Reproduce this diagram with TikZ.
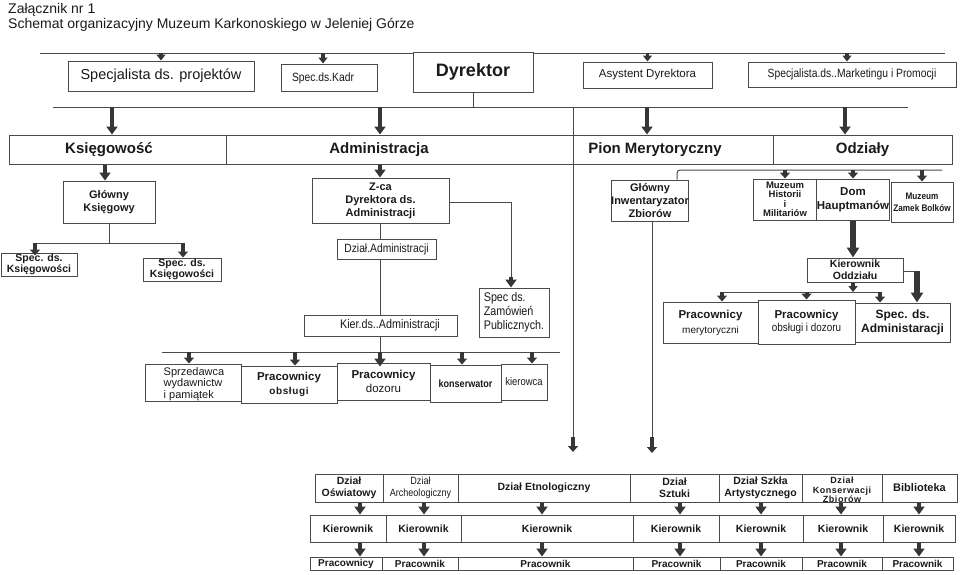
\documentclass[tikz,border=0pt]{standalone}
\usepackage{fontspec}
\setmainfont{Liberation Sans}
\newfontfamily\narrowfont[FakeStretch=0.86]{Liberation Sans}
\newfontfamily\widefont[LetterSpace=6]{Liberation Sans}
\usetikzlibrary{arrows.meta}
\definecolor{lc}{HTML}{4A4A4A}
\definecolor{ac}{HTML}{363636}
\definecolor{tc}{HTML}{1A1A1A}
\newcommand\fs[2]{\fontsize{#1}{#2}\selectfont}
\newcommand\bx[7]{\node[box,#6,minimum width={#4-#2},minimum height={#5-#3}] (#1) at ({(#2+#4)/2},{(#3+#5)/2}) {#7};}
\begin{document}
\begin{tikzpicture}[x=1pt,y=-1pt,
 box/.style={draw=lc,line width=1pt,inner sep=0pt,align=center,text=tc,fill=white},
 ln/.style={draw=lc,line width=1pt},
 big/.style={draw=ac,line width=4.5pt,-{Triangle[width=11pt,length=8pt]}},
 med/.style={draw=ac,line width=4pt,-{Triangle[width=10pt,length=6pt]}},
 sm/.style={draw=ac,line width=3.5pt,-{Triangle[width=9pt,length=6pt]}},
 lab/.style={text=tc,inner sep=0pt}]
\useasboundingbox (0,0) rectangle (960,574);

% title
\node[lab,anchor=base west,font=\fs{14}{16}] (t1) at (8,13) {Załącznik nr 1};
\node[lab,anchor=base west,font=\fs{14}{16}] (t2) at (8,28) {Schemat organizacyjny Muzeum Karkonoskiego w Jeleniej Górze};

% ---------- top row
\coordinate (tb1) at (40,53); \coordinate (tb2) at (945,53);
\bx{dyr}{413}{52}{533}{92}{font=\bfseries\fs{18}{20}}{Dyrektor}
\bx{proj}{68}{61}{254}{91}{font=\fs{14.5}{16}}{Specjalista ds. projektów}
\bx{kadr}{281}{64}{377}{91}{}{}
\node[lab,font=\narrowfont\fs{12}{13}] (kadrT) at (323,78) {Spec.ds.Kadr};
\bx{asys}{583}{62}{712}{88}{font=\fs{11.5}{13}}{Asystent Dyrektora}
\bx{mark}{748}{62}{956}{87}{font=\narrowfont\fs{12}{13}}{Specjalista.ds..Marketingu i Promocji}
\draw[ln] (tb1) -- (tb1 -| dyr.west);
\draw[ln] (tb2 -| dyr.east) -- (tb2);
\coordinate (cKd) at (323,0); \coordinate (cMk) at (847,0);
\draw[sm] (tb1 -| proj.north) -- (proj.north);
\draw[sm] (tb1 -| cKd) -- (kadr.north -| cKd);
\draw[sm] (tb1 -| asys.north) -- (asys.north);
\draw[sm] (tb1 -| cMk) -- (mark.north -| cMk);

% ---------- second bus and row
\coordinate (sb1) at (53,107); \coordinate (sb2) at (908,107);
\draw[ln] (sb1) -- (sb2);
\draw[ln] (dyr.south) -- (dyr.south |- sb1);
\bx{ksieg}{9}{135}{226}{164}{}{}
\bx{adm}{226}{135}{573}{164}{}{}
\bx{pion}{573}{135}{773}{164}{}{}
\bx{odz}{773}{135}{952}{164}{font=\bfseries\fs{15}{17}}{Odziały}
\node[lab,font=\bfseries\fs{15}{17}] (ksiegT) at (109,150) {Księgowość};
\node[lab,font=\bfseries\fs{15}{17}] (admT) at (379,150) {Administracja};
\node[lab,font=\bfseries\fs{15}{17}] (pionT) at (655,150) {Pion Merytoryczny};
\coordinate (cK) at (112,0); \coordinate (cA) at (380,0);
\coordinate (cP) at (647,0); \coordinate (cO) at (845,0);
\draw[big] (sb1 -| cK) -- (ksieg.north -| cK);
\draw[big] (sb1 -| cA) -- (adm.north -| cA);
\draw[big] (sb1 -| cP) -- (pion.north -| cP);
\draw[big] (sb1 -| cO) -- (odz.north -| cO);
% long vertical line to the departments
\coordinate (vM) at (573,437); \coordinate (vE) at (573,452);
\draw[ln] (sb1 -| vM) -- (vM);
\draw[med] (vM) -- (vE);

% ---------- Ksiegowosc
\coordinate (cG) at (105,0);
\bx{gk}{63}{181}{155}{223}{font=\bfseries\fs{11}{13}}{Główny\\Księgowy}
\draw[big] (ksieg.south -| cG) -- (gk.north -| cG);
\bx{sk1}{1}{253}{77}{276}{font=\bfseries\fs{10.5}{11}}{Spec. ds.\\Księgowości}
\bx{sk2}{143}{258}{221}{281}{font=\bfseries\fs{10.5}{11}}{Spec. ds.\\Księgowości}
\coordinate (kb1) at (33,243); \coordinate (kb2) at (183,243);
\draw[ln] (gk.south) -- (gk.south |- kb1);
\draw[ln] (kb1) -- (kb2);
\coordinate (cS1) at (35,0);
\draw[med] (kb1 -| cS1) -- ([yshift=-3pt]sk1.north -| cS1);
\draw[med] (kb2) -- (sk2.north -| kb2);

% ---------- Administracja
\bx{zca}{312}{178}{449}{223}{font=\bfseries\fs{11}{13}}{Z-ca\\Dyrektora ds.\\Administracji}
\draw[big] (adm.south -| cA) -- (zca.north -| cA);
\bx{dzial}{337}{239}{436}{259}{font=\narrowfont\fs{12}{12}}{Dział.Administracji}
\bx{kier}{304}{315}{457}{336}{}{}
\node[lab,font=\narrowfont\fs{12.5}{13}] (kierT) at (390,325.5) {Kier.ds..Administracji};
\bx{zam}{479}{288}{549}{337}{font=\narrowfont\fs{12.5}{14},align=left}{Spec ds.\\Zamówień\\Publicznych.}
\draw[ln] (zca.south -| cA) -- (dzial.north -| cA);
\draw[ln] (dzial.south -| cA) -- (kier.north -| cA);
\coordinate (zr) at (511,202); \coordinate (zr2) at (511,277);
\draw[ln] (zca.east |- zr) -- (zr) -- (zr2);
\draw[big] (zr2) -- (zam.north -| zr2);
\coordinate (ab1) at (162,352); \coordinate (ab2) at (560,352);
\draw[ln] (ab1) -- (ab2);
\draw[ln] (kier.south -| cA) -- (ab1 -| cA);
\bx{b1}{145}{364}{241}{401}{}{}
\node[lab,align=left,font=\fs{11}{11.5}] (b1T) at (194,384) {Sprzedawca\\wydawnictw\\i pamiątek};
\bx{b2}{241}{366}{337}{403}{font=\bfseries\fs{11.5}{14}}{Pracownicy\\{\widefont\bfseries\fs{10}{14}obsługi}}
\bx{b3}{337}{363}{430}{400}{font=\fs{11.5}{14}}{\textbf{Pracownicy}\\dozoru}
\bx{b4}{430}{365}{501}{402}{font=\narrowfont\bfseries\fs{10.5}{12}}{konserwator}
\bx{b5}{501}{364}{547}{400}{font=\narrowfont\fs{11}{12}}{kierowca}
\coordinate (cB1) at (189,0); \coordinate (cB2) at (295,0);
\coordinate (cB4) at (462,0); \coordinate (cB5) at (532,0);
\draw[med] (ab1 -| cB1) -- (b1.north -| cB1);
\draw[med] (ab1 -| cB2) -- (b2.north -| cB2);
\draw[big] (ab1 -| cA) -- ([yshift=-4pt]b3.north -| cA);
\draw[med] (ab1 -| cB4) -- (b4.north -| cB4);
\draw[med] (ab1 -| cB5) -- (b5.north -| cB5);

% ---------- Pion Merytoryczny / Odzialy
\bx{gi}{612}{180}{688}{221}{font=\bfseries\fs{11}{13}}{Główny\\Inwentaryzator\\Zbiorów}
\coordinate (pb1) at (677,170); \coordinate (pb2) at (942,170);
\draw[ln,rounded corners=3pt] (gi.north -| pb1) -- (pb1) -- (pb2);
\coordinate (gM) at (652,437); \coordinate (gE) at (652,453);
\draw[ln] (gi.south -| gM) -- (gM);
\draw[med] (gM) -- (gE);
\bx{mh}{753}{179}{817}{220}{font=\bfseries\fs{9.5}{9.5}}{Muzeum\\Historii\\i\\Militariów}
\bx{dh}{817}{179}{889}{220}{font=\bfseries\fs{11.5}{14}}{Dom\\Hauptmanów}
\bx{zb}{891}{182}{953}{222}{font=\narrowfont\bfseries\fs{9.5}{12}}{Muzeum\\Zamek Bolków}
\draw[med] (pb1 -| mh.north) -- (mh.north);
\draw[med] (pb1 -| dh.north) -- (dh.north);
\draw[med] (pb1 -| zb.north) -- (zb.north);
\bx{ko}{807}{258}{903}{282}{font=\bfseries\fs{10.5}{12}}{Kierownik\\Oddziału}
\coordinate (cD) at (853,0);
\draw[draw=ac,line width=6pt,-{Triangle[width=12pt,length=10pt]}] (dh.south -| cD) -- (ko.north -| cD);
\bx{pm}{663}{302}{758}{343}{font=\fs{11.5}{15}}{\textbf{Pracownicy}\\{\fs{10}{15}merytoryczni}}
\bx{pod}{758}{300}{855}{344}{font=\fs{11.5}{13}}{\textbf{Pracownicy}\\{\narrowfont\fs{11.5}{13}obsługi i dozoru}}
\bx{sa}{855}{303}{950}{342}{font=\bfseries\fs{12}{14}}{Spec. ds.\\Administaracji}
\coordinate (kr) at (917,271);
\draw[ln] (ko.east |- kr) -- (kr);
\draw[draw=ac,line width=6pt,-{Triangle[width=12pt,length=10pt]}] (kr) -- (sa.north -| kr);
\coordinate (ob1) at (722,292); \coordinate (ob2) at (880,292);
\draw[ln] (ob1) -- (ob2);
\draw[sm] (ko.south -| cD) -- (ob1 -| cD);
\draw[med] (ob1) -- (pm.north -| ob1);
\draw[med] (ob1 -| pod.north) -- (pod.north);
\draw[med] (ob2) -- (sa.north -| ob2);

% ---------- departments
\bx{d1}{315}{474}{383}{502}{font=\bfseries\fs{10.5}{12}}{Dział\\Oświatowy}
\bx{d2}{383}{474}{458}{502}{font=\narrowfont\fs{10.5}{12}}{Dział\\Archeologiczny}
\bx{d3}{458}{474}{630}{502}{font=\bfseries\fs{10.5}{12}}{Dział Etnologiczny}
\bx{d4}{630}{474}{719}{502}{font=\bfseries\fs{10.5}{12}}{Dział\\Sztuki}
\bx{d5}{719}{474}{802}{502}{font=\bfseries\fs{10.5}{12}}{Dział Szkła\\Artystycznego}
\bx{d6}{802}{474}{882}{502}{}{}
\begin{scope}
\clip (802,474) rectangle (882,502);
\node[lab,align=center,font=\widefont\bfseries\fs{9}{9.5}] (d6T) at (842,490) {Dział\\Konserwacji\\Zbiorów};
\end{scope}
\draw[ln] (d6.south west) -- (d6.south east);
\bx{d7}{882}{474}{957}{502}{font=\bfseries\fs{11}{12}}{Biblioteka}

\bx{k1}{310}{515}{386}{542}{font=\bfseries\fs{10.5}{12}}{Kierownik}
\bx{k2}{386}{515}{461}{542}{font=\bfseries\fs{10.5}{12}}{Kierownik}
\bx{k3}{461}{515}{633}{542}{font=\bfseries\fs{10.5}{12}}{Kierownik}
\bx{k4}{633}{515}{719}{542}{font=\bfseries\fs{10.5}{12}}{Kierownik}
\bx{k5}{719}{515}{803}{542}{font=\bfseries\fs{10.5}{12}}{Kierownik}
\bx{k6}{803}{515}{883}{542}{font=\bfseries\fs{10.5}{12}}{Kierownik}
\bx{k7}{883}{515}{955}{542}{font=\bfseries\fs{10.5}{12}}{Kierownik}

\bx{p1}{310}{557}{382}{570}{font=\bfseries\fs{10}{11}}{Pracownicy}
\bx{p2}{382}{557}{458}{570}{font=\bfseries\fs{10}{11}}{Pracownik}
\bx{p3}{458}{557}{633}{570}{font=\bfseries\fs{10}{11}}{Pracownik}
\bx{p4}{633}{557}{720}{570}{font=\bfseries\fs{10}{11}}{Pracownik}
\bx{p5}{720}{557}{802}{570}{font=\bfseries\fs{10}{11}}{Pracownik}
\bx{p6}{802}{557}{882}{570}{font=\bfseries\fs{10}{11}}{Pracownik}
\bx{p7}{882}{557}{953}{570}{font=\bfseries\fs{10}{11}}{Pracownik}

\foreach \i/\xx in {1/360,2/424,3/542,4/680,5/761,6/841,7/919} {
  \coordinate (ca\i) at (\xx,0);
  \draw[big] (d\i.south -| ca\i) -- (k\i.north -| ca\i);
  \draw[big] (k\i.south -| ca\i) -- (p\i.north -| ca\i);
}
\end{tikzpicture}
\end{document}
